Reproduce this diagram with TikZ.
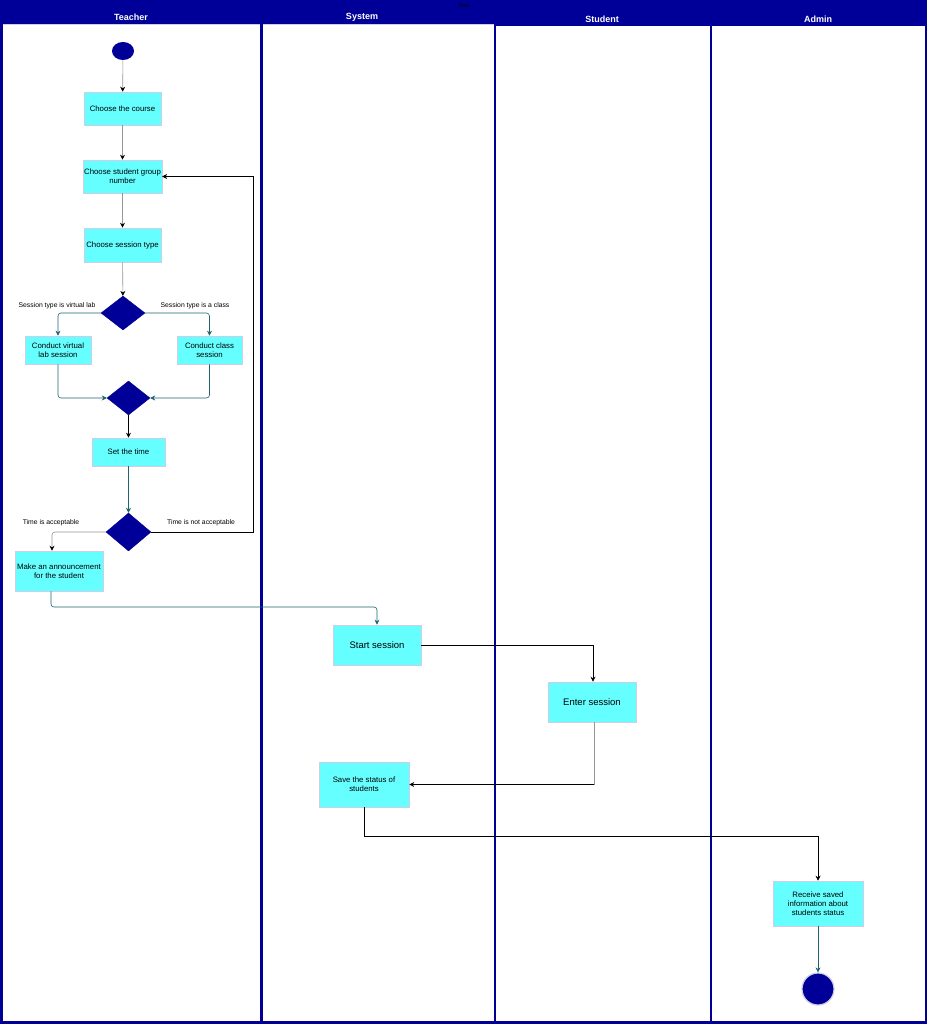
\documentclass[tikz,border=0pt]{standalone}
\usepackage{fontspec}
\setmainfont{Liberation Sans}
\usetikzlibrary{shapes.geometric,arrows.meta}
\definecolor{navy}{RGB}{0,0,153}
\definecolor{cyanbox}{RGB}{102,255,255}
\definecolor{boxedge}{RGB}{205,205,230}
\definecolor{tealedge}{RGB}{30,100,110}
\definecolor{grayedge}{RGB}{150,150,150}
\tikzset{
  act/.style={rectangle, fill=cyanbox, draw=boxedge, line width=0.6pt, align=center, font=\fontsize{7.8}{9.2}\selectfont, inner sep=1pt},
  bigact/.style={act, font=\fontsize{9.5}{11}\selectfont},
  dec/.style={diamond, fill=navy, draw=navy, inner sep=0pt, aspect=1.3},
  lbl/.style={font=\fontsize{6.8}{7.5}\selectfont, inner sep=0pt},
  hdr/.style={font=\bfseries\fontsize{9}{10}\selectfont, text=white, inner sep=0pt},
  flow/.style={line width=0.6pt, -{Stealth[length=5pt,width=5pt]}, rounded corners=3pt},
  grayflow/.style={line width=0.6pt, draw=grayedge, -{Stealth[length=5pt,width=5pt,color=black]}, rounded corners=3pt},
}
\begin{document}
\begin{tikzpicture}[x=1pt,y=-1pt]
\useasboundingbox (0,0) rectangle (927,1024);
% pool background
\fill[navy] (0,0) rectangle (927,1024);
\fill[white] (2.5,24) rectangle (260,1021);
\fill[white] (263,24) rectangle (493.5,1021);
\fill[white] (495.5,26) rectangle (709.5,1021);
\fill[white] (711.5,26) rectangle (925,1021);
\draw[boxedge, line width=0.5pt] (2.5,24.3) -- (260,24.3);
\draw[boxedge, line width=0.5pt] (263,24.3) -- (493.5,24.3);
% headers
\node[font=\fontsize{5.5}{6}\selectfont, inner sep=0pt] (pool) at (464,6) {Pool};
\node[hdr] (hT) at (131,17) {Teacher};
\node[hdr] (hS) at (362,17) {System};
\node[hdr] (hSt) at (602,19.5) {Student};
\node[hdr] (hA) at (818,19.5) {Admin};
% nodes
\node[ellipse, fill=navy, minimum width=22pt, minimum height=18pt, inner sep=0pt] (start) at (123,51) {};
\node[act, minimum width=77pt, minimum height=33pt] (course) at (122.5,108.5) {Choose the course};
\node[act, minimum width=77pt, minimum height=33pt] (group) at (122.5,176.5) {Choose student group\\number};
\node[act, minimum width=77pt, minimum height=34pt] (stype) at (122.5,245) {Choose session type};
\node[dec, minimum width=44pt, minimum height=34pt] (d1) at (123,313) {};
\node[act, minimum width=66pt, minimum height=28pt] (vlab) at (58,350) {Conduct virtual\\lab session};
\node[act, minimum width=65pt, minimum height=28pt] (cls) at (209.5,350) {Conduct class\\session};
\node[dec, minimum width=43pt, minimum height=34pt] (d2) at (128.5,398) {};
\node[act, minimum width=73pt, minimum height=28pt] (time) at (128.5,452) {Set the time};
\node[dec, minimum width=45pt, minimum height=38pt] (d3) at (128.5,532) {};
\node[act, minimum width=88pt, minimum height=40pt] (ann) at (59,571) {Make an announcement\\for the student};
\node[bigact, minimum width=88pt, minimum height=40pt] (ss) at (377,645) {Start session};
\node[bigact, minimum width=88pt, minimum height=40pt] (es) at (592,702) {Enter session};
\node[act, minimum width=90pt, minimum height=45pt] (save) at (364,784.5) {Save the status of\\students};
\node[act, minimum width=90pt, minimum height=45pt] (recv) at (818,903.5) {Receive saved\\information about\\students status};
\node[circle, fill=navy, draw=boxedge, line width=1.2pt, minimum size=32pt, inner sep=0pt] (end) at (818,989) {};
% labels
\node[lbl] (l1) at (57,306) {Session type is virtual lab};
\node[lbl] (l2) at (195,306) {Session type is a class};
\node[lbl] (l3) at (51,523) {Time is acceptable};
\node[lbl] (l4) at (201,523) {Time is not acceptable};
% edges
\draw[grayflow] (start) -- (course);
\draw[grayflow] (course) -- (group);
\draw[grayflow] (group) -- (stype);
\draw[grayflow] (stype) -- (d1);
\draw[flow, tealedge] (d1.west) -| (vlab.north);
\draw[flow, tealedge] (d1.east) -| (cls.north);
\draw[flow, tealedge] (vlab.south) |- (d2.west);
\draw[flow, tealedge] (cls.south) |- (d2.east);
\draw[flow, black] (d2) -- (time);
\draw[flow, tealedge] (time) -- (d3);
\draw[grayflow] (d3.west) -| ([xshift=-7pt]ann.north);
\coordinate (loopc) at (253,532);
\draw[flow, black, rounded corners=0pt] (d3.east) -- (loopc) |- (group.east);
\coordinate (a1) at (51,607);
\draw[flow, tealedge] ([xshift=-8pt]ann.south) -- (a1) -| (ss.north);
\draw[flow, black, rounded corners=0pt] (ss.east) -| ([xshift=1pt]es.north);
\coordinate (b1) at (594,784.5);
\draw[grayedge, line width=0.6pt] ([xshift=2pt]es.south) -- (b1);
\draw[flow, black, rounded corners=0pt] (b1) -- (save.east);
\coordinate (c1) at (364,836);
\draw[flow, black, rounded corners=0pt] (save.south) -- (c1) -| (recv.north);
\draw[flow, tealedge] (recv) -- (end);
\end{tikzpicture}
\end{document}
